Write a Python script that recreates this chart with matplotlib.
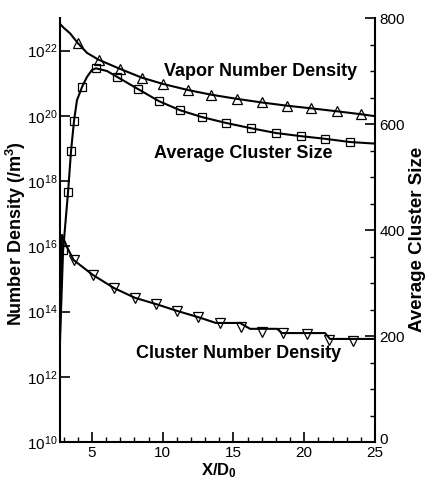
import numpy as np
import matplotlib
matplotlib.use('Agg')
import matplotlib.pyplot as plt
import matplotlib.transforms as mtransforms
from matplotlib.ticker import FixedLocator, MultipleLocator, FuncFormatter, NullLocator

plt.rcParams['font.family'] = ['Liberation Sans', 'DejaVu Sans']
plt.rcParams['mathtext.fontset'] = 'custom'
plt.rcParams['mathtext.rm'] = 'Liberation Sans'
plt.rcParams['mathtext.bf'] = 'Liberation Sans:bold'
plt.rcParams['mathtext.it'] = 'Liberation Sans:italic'

# ---------------- data ----------------
# Vapor number density (log10 of /m^3)
vapor_x = [2.74, 3.0, 3.45, 3.98, 4.65, 5.47, 6.98, 8.53, 10.0, 11.8, 13.4, 15.25,
           17.0, 18.8, 20.5, 22.3, 24.0, 25.0]
vapor_log = [22.82, 22.70, 22.53, 22.24, 21.93, 21.72, 21.44, 21.17, 20.98, 20.79,
             20.65, 20.52, 20.41, 20.31, 20.23, 20.14, 20.05, 19.99]
vapor_mark_x = [3.98, 5.47, 6.98, 8.53, 10.0, 11.8, 13.4, 15.25, 17.0, 18.8, 20.5, 22.3, 24.0]
vapor_mark_log = [22.24, 21.72, 21.44, 21.17, 20.98, 20.79, 20.65, 20.52, 20.41, 20.31,
                  20.23, 20.14, 20.05]

# Average cluster size (right axis)
size_x = [2.74, 2.82, 2.96, 3.31, 3.52, 3.73, 3.94, 4.3, 4.65, 5.0, 5.28, 6.06, 6.77,
          8.25, 9.74, 11.22, 12.78, 14.47, 16.24, 18.0, 19.78, 21.5, 23.24, 25.0]
size_val = [190, 255, 362, 472, 549, 606, 645, 670, 689, 702, 705, 700, 689,
            666, 643, 626, 613, 602, 592, 583, 577, 572, 566, 563]
size_mark_x = [2.96, 3.31, 3.52, 3.73, 4.3, 5.28, 6.77, 8.25, 9.74, 11.22, 12.78,
               14.47, 16.24, 18.0, 19.78, 21.5, 23.24]
size_mark_val = [362, 472, 549, 606, 670, 705, 689, 666, 643, 626, 613,
                 602, 592, 583, 577, 572, 566]

# Cluster number density (log10 of /m^3)
cnd_x = [2.74, 2.88, 3.23, 3.7, 5.07, 6.56, 8.04, 9.52, 11.01, 12.49, 13.55, 13.75,
         15.46, 16.17, 18.08, 18.43, 21.47, 21.82, 25.0]
cnd_log = [13.5, 16.35, 15.98, 15.58, 15.12, 14.72, 14.42, 14.23, 14.02, 13.83, 13.68,
           13.65, 13.65, 13.47, 13.47, 13.34, 13.34, 13.16, 13.16]
cnd_mark_x = [3.7, 5.07, 6.56, 8.04, 9.52, 11.01, 12.49, 14.05, 15.53, 17.02, 18.5,
              20.2, 21.75, 23.45]
cnd_mark_log = [15.58, 15.12, 14.72, 14.42, 14.23, 14.02, 13.83, 13.65, 13.53, 13.37,
                13.34, 13.31, 13.13, 13.10]

left_tick_exp = [10, 12, 14, 16, 18, 20, 22]
x_ticks = [5, 10, 15, 20, 25]
right_ticks = [0, 200, 400, 600, 800]

# ---------------- figure ----------------
W, H = 426, 480
fig = plt.figure(figsize=(W / 100, H / 100), dpi=100)
ax = fig.add_axes([60 / W, 38 / H, 315 / W, 424 / H])
ax2 = ax.twinx()

lw = 1.5
ax.plot(vapor_x, 10.0 ** np.array(vapor_log), color='black', lw=lw)
ax.plot(vapor_mark_x, 10.0 ** np.array(vapor_mark_log), ls='none', marker='^',
        ms=7, mfc='none', mec='black', mew=0.9)
ax.plot(cnd_x, 10.0 ** np.array(cnd_log), color='black', lw=lw)
ax.plot(cnd_mark_x, 10.0 ** np.array(cnd_mark_log), ls='none', marker='v',
        ms=7, mfc='none', mec='black', mew=0.9)
ax2.plot(size_x, size_val, color='black', lw=lw)
ax2.plot(size_mark_x, size_mark_val, ls='none', marker='s', ms=5.2,
         mfc='none', mec='black', mew=0.9)

ax.set_yscale('log')
ax.set_ylim(1e10, 1e23)
ax.set_xlim(2.74, 25)
ax2.set_ylim(0, 800)

ax.yaxis.set_major_locator(FixedLocator([10.0 ** e for e in left_tick_exp]))
ax.yaxis.set_minor_locator(NullLocator())
ax.yaxis.set_major_formatter(FuncFormatter(
    lambda v, p: r'$\mathregular{10^{%d}}$' % int(round(np.log10(v)))))
ax.xaxis.set_major_locator(FixedLocator(x_ticks))
ax.xaxis.set_minor_locator(MultipleLocator(1))
ax2.yaxis.set_major_locator(FixedLocator(right_ticks))
ax2.yaxis.set_minor_locator(MultipleLocator(50))

for a in (ax, ax2):
    for s in a.spines.values():
        s.set_linewidth(1.5)
    a.spines['top'].set_visible(False)
ax.spines['right'].set_visible(False)
ax2.spines['left'].set_visible(False)
ax2.spines['bottom'].set_visible(False)
ax.patch.set_visible(False)

ax.tick_params(axis='y', which='major', direction='in', length=7, width=1.2,
               labelsize=11, right=False, pad=2)
ax.tick_params(axis='x', which='major', direction='in', length=7, width=1.2,
               labelsize=11, top=False, pad=3)
ax.tick_params(axis='both', which='minor', direction='in', length=3.5, width=1.0,
               top=False, right=False)
ax2.tick_params(axis='y', which='major', direction='in', length=7, width=1.2,
                labelsize=11, left=False, pad=3)
ax2.tick_params(axis='y', which='minor', direction='in', length=3.5, width=1.0, left=False)

# nudge the right-axis "0" label up a little so it clears the "25" below it
fig.canvas.draw()
zero_lbl = ax2.yaxis.get_major_ticks()[0].label2
zero_lbl.set_transform(zero_lbl.get_transform() +
                       mtransforms.ScaledTranslation(0, 4 / 100, fig.dpi_scale_trans))


def ftext(px, py, s, **kw):
    fig.text(px / W, 1 - py / H, s, ha='center', va='center', **kw)


ftext(261, 71, 'Vapor Number Density', fontsize=13, fontweight='bold')
ftext(243, 153, 'Average Cluster Size', fontsize=13, fontweight='bold')
ftext(239, 353, 'Cluster Number Density', fontsize=13, fontweight='bold')
ftext(219, 471, r'X/D$_\mathbf{0}$', fontsize=12, fontweight='bold')
ftext(16, 234, r'Number Density (/m$^\mathbf{3}$)', fontsize=13, fontweight='bold',
      rotation=90)
ftext(417, 239, 'Average Cluster Size', fontsize=13.5, fontweight='bold', rotation=90)

fig.savefig('out.png', dpi=100)
